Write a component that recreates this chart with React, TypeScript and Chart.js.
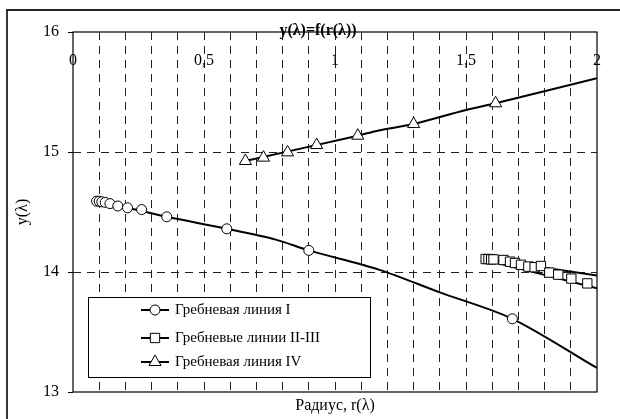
import { useEffect, useRef } from 'react';
import { Chart, registerables } from 'chart.js';

Chart.register(...registerables);

const FONT = '"Liberation Serif", "Times New Roman", serif';

// x-axis tick labels (0..2, major every 0.5, grid every 0.1)
const xMajorLabels = ['0', '0,5', '1', '1,5', '2'];
const yTickValues = [13, 14, 15, 16];

// Гребневая линия I (circles)
const ridgeIR = [0.09, 0.1, 0.11, 0.123, 0.141, 0.171, 0.208, 0.262, 0.358, 0.587, 0.9, 1.677];
const ridgeIY = [14.59, 14.59, 14.585, 14.58, 14.57, 14.55, 14.535, 14.52, 14.46, 14.36, 14.18, 13.61];
const ridgeILineR = [0.09, 0.2, 0.358, 0.587, 0.774, 0.9, 1.167, 1.4, 1.677, 2.0];
const ridgeILineY = [14.59, 14.54, 14.46, 14.36, 14.27, 14.18, 14.02, 13.83, 13.61, 13.2];

// Гребневые линии II-III (squares)
const ridgeIIR = [1.575, 1.586, 1.596, 1.605, 1.643, 1.668, 1.687, 1.71, 1.738, 1.762, 1.786, 1.818, 1.852, 1.902, 1.963];
const ridgeIIY = [14.108, 14.108, 14.105, 14.105, 14.1, 14.086, 14.075, 14.06, 14.045, 14.04, 14.05, 13.995, 13.978, 13.945, 13.905];
const ridgeIIUpperR = [1.575, 2.0];
const ridgeIIUpperY = [14.11, 13.97];
const ridgeIILowerR = [1.575, 2.0];
const ridgeIILowerY = [14.1, 13.865];

// Гребневая линия IV (triangles)
const ridgeIVR = [0.658, 0.727, 0.819, 0.93, 1.087, 1.3, 1.613];
const ridgeIVY = [14.925, 14.953, 14.997, 15.058, 15.136, 15.233, 15.406];
const ridgeIVLineR = [0.658, 1.087, 1.167, 1.3, 1.5, 1.613, 2.0];
const ridgeIVLineY = [14.925, 15.136, 15.18, 15.233, 15.35, 15.406, 15.614];

const seriesLabels = ['Гребневая линия I', 'Гребневые линии II-III', 'Гребневая линия IV'];

const pts = (xs: number[], ys: number[]) => xs.map((x, i) => ({ x, y: ys[i] }));

function drawMarker(ctx: CanvasRenderingContext2D, style: string, x: number, y: number, r: number) {
  ctx.beginPath();
  if (style === 'circle') {
    ctx.arc(x, y, r, 0, Math.PI * 2);
  } else if (style === 'rect') {
    const s = r * Math.SQRT1_2;
    ctx.rect(x - s, y - s, 2 * s, 2 * s);
  } else {
    for (let k = 0; k < 3; k++) {
      const ang = (k * 2 * Math.PI) / 3;
      const px = x + Math.sin(ang) * r;
      const py = y - Math.cos(ang) * r;
      if (k === 0) ctx.moveTo(px, py);
      else ctx.lineTo(px, py);
    }
    ctx.closePath();
  }
  ctx.fillStyle = '#fff';
  ctx.fill();
  ctx.lineWidth = 1;
  ctx.strokeStyle = '#000';
  ctx.stroke();
}

const decorPlugin = {
  id: 'decor',
  beforeDatasetsDraw(chart: any) {
    const { ctx, chartArea: a } = chart;
    ctx.save();
    ctx.strokeStyle = '#000';
    ctx.lineWidth = 1.2;
    ctx.strokeRect(a.left, a.top, a.right - a.left, a.bottom - a.top);
    ctx.restore();
  },
  afterDatasetsDraw(chart: any) {
    const { ctx, chartArea: a } = chart;
    // legend
    const bx = a.left + 15;
    const by = a.bottom - 95;
    const bw = 282;
    const bh = 80;
    ctx.save();
    ctx.fillStyle = '#fff';
    ctx.fillRect(bx, by, bw, bh);
    ctx.strokeStyle = '#000';
    ctx.lineWidth = 1;
    ctx.strokeRect(bx + 0.5, by + 0.5, bw, bh);
    const rows = [13, 41, 65];
    chart.data.datasets.slice(0, 3).forEach((ds: any, i: number) => {
      const ry = by + rows[i];
      ctx.beginPath();
      ctx.moveTo(bx + 53, ry);
      ctx.lineTo(bx + 81, ry);
      ctx.lineWidth = 2;
      ctx.strokeStyle = '#000';
      ctx.stroke();
      drawMarker(ctx, ds.pointStyle, bx + 67, ry, ds.pointRadius);
      ctx.fillStyle = '#000';
      ctx.font = `15px ${FONT}`;
      ctx.textAlign = 'left';
      ctx.textBaseline = 'middle';
      ctx.fillText(ds.label, bx + 87, ry);
    });
    ctx.restore();
  },
  afterDraw(chart: any) {
    const { ctx, chartArea: a } = chart;
    ctx.save();
    // outer frame (left and top visible)
    ctx.strokeStyle = '#222';
    ctx.lineWidth = 1.8;
    ctx.beginPath();
    ctx.moveTo(7, chart.height + 5);
    ctx.lineTo(7, 10);
    ctx.lineTo(chart.width + 5, 10);
    ctx.stroke();
    // chart title
    ctx.fillStyle = '#000';
    ctx.textAlign = 'center';
    ctx.textBaseline = 'middle';
    ctx.font = `bold 16px ${FONT}`;
    ctx.fillText('y(λ)=f(r(λ))', (chart.width + 16) / 2, a.top - 1);
    // x axis title
    ctx.font = `16px ${FONT}`;
    ctx.fillText('Радиус, r(λ)', (a.left + a.right) / 2, a.bottom + 14);
    ctx.restore();
  },
};

export default function App() {
  const ref = useRef<HTMLCanvasElement | null>(null);

  useEffect(() => {
    if (!ref.current) return;
    const lineDs = (data: { x: number; y: number }[]) => ({
      label: '',
      data,
      showLine: true,
      borderColor: '#000',
      borderWidth: 2,
      pointRadius: 0,
      tension: 0.3,
      fill: false,
    });
    const markerDs = (label: string, data: { x: number; y: number }[], style: string, r: number) => ({
      label,
      data,
      showLine: false,
      pointStyle: style,
      pointRadius: r,
      pointBackgroundColor: '#fff',
      pointBorderColor: '#000',
      pointBorderWidth: 1,
      borderColor: '#000',
    });

    const chart = new Chart(ref.current, {
      type: 'scatter',
      data: {
        datasets: [
          markerDs(seriesLabels[0], pts(ridgeIR, ridgeIY), 'circle', 5),
          markerDs(seriesLabels[1], pts(ridgeIIR, ridgeIIY), 'rect', 6.6),
          markerDs(seriesLabels[2], pts(ridgeIVR, ridgeIVY), 'triangle', 7),
          lineDs(pts(ridgeILineR, ridgeILineY)),
          lineDs(pts(ridgeIIUpperR, ridgeIIUpperY)),
          lineDs(pts(ridgeIILowerR, ridgeIILowerY)),
          lineDs(pts(ridgeIVLineR, ridgeIVLineY)),
        ] as any,
      },
      options: {
        animation: false,
        responsive: false,
        layout: { padding: { left: 0, right: 21, top: 0, bottom: 27 } },
        plugins: {
          legend: { display: false },
          tooltip: { enabled: false },
          title: { display: false },
        },
        scales: {
          x: {
            type: 'linear',
            position: 'top',
            min: 0,
            max: 2,
            afterFit: (s: any) => {
              s.height = 32;
            },
            ticks: {
              stepSize: 0.1,
              autoSkip: false,
              maxRotation: 0,
              mirror: true,
              padding: 19,
              color: '#000',
              font: { family: FONT, size: 16 },
              callback: (v: any) => {
                const k = Math.round(Number(v) * 2);
                if (Math.abs(Number(v) * 2 - k) < 1e-6) return xMajorLabels[k] ?? '';
                return '';
              },
            },
            grid: {
              drawTicks: false,
              lineWidth: 1,
              color: (c: any) => {
                const v = c.tick ? c.tick.value : 0;
                return v <= 0.0001 || v >= 1.9999 ? 'rgba(0,0,0,0)' : '#222';
              },
            },
            border: { display: false, dash: [8, 6] },
          },
          y: {
            type: 'linear',
            min: 13,
            max: 16,
            afterFit: (s: any) => {
              s.width = 73;
            },
            afterBuildTicks: (s: any) => {
              s.ticks = yTickValues.map((v) => ({ value: v }));
            },
            ticks: {
              padding: 9,
              color: '#000',
              font: { family: FONT, size: 16 },
              callback: (v: any) => String(v),
            },
            grid: {
              drawTicks: true,
              tickLength: 5,
              tickColor: '#000',
              tickWidth: 1,
              lineWidth: 1,
              color: (c: any) => {
                const v = c.tick ? c.tick.value : 0;
                return v <= 13.0001 || v >= 15.9999 ? 'rgba(0,0,0,0)' : '#222';
              },
            },
            border: { display: false, dash: [8, 6] },
            title: {
              display: true,
              text: 'y(λ)',
              color: '#000',
              font: { family: FONT, size: 16 },
              padding: { top: 13, bottom: 0 },
            },
          },
        },
      } as any,
      plugins: [decorPlugin],
    });
    return () => chart.destroy();
  }, []);

  return (
    <div style={{ position: 'absolute', left: 0, top: 0, width: 620, height: 419, background: '#fff' }}>
      <canvas ref={ref} width={620} height={419} style={{ display: 'block' }} />
    </div>
  );
}
